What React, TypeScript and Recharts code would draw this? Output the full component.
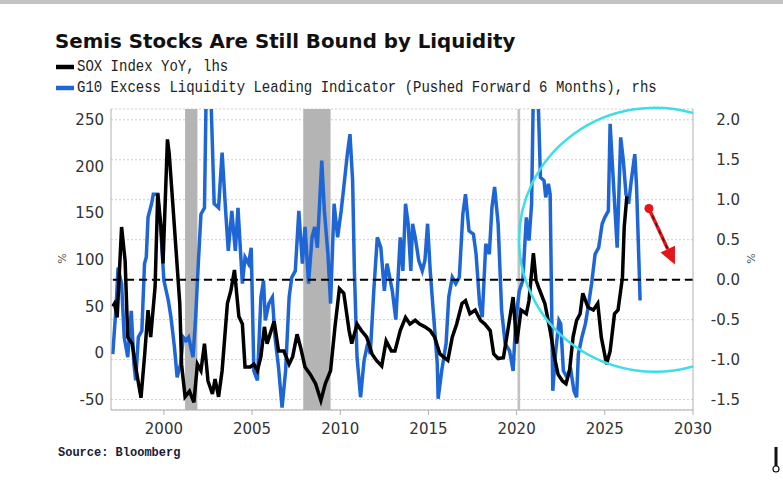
import React from 'react';
import {
  LineChart,
  Line,
  XAxis,
  YAxis,
  CartesianGrid,
  ReferenceArea,
  ReferenceLine,
  ReferenceDot,
} from 'recharts';

const X_TICKS = [2000, 2005, 2010, 2015, 2020, 2025, 2030];
const LHS_TICKS = [-50, 0, 50, 100, 150, 200, 250];
const RHS_TICKS = [-1.5, -1.0, -0.5, 0, 0.5, 1.0, 1.5, 2.0];

const X_DOMAIN = [1997, 2030];
const LHS_DOMAIN = [-61.14, 261.57];
const RHS_DOMAIN = [-1.63, 2.135];

// shaded recession windows [start, end] in decimal years
const RECESSIONS = [
  [2001.2, 2001.9],
  [2007.9, 2009.45],
  [2020.05, 2020.2],
];

// SOX Index YoY (%), lhs — [decimal year, value]
const SOX_YOY = [
  [1997.1, 50], [1997.2, 53], [1997.35, 38], [1997.6, 135], [1997.8, 99], [1997.95, 17],
  [1998.2, 10], [1998.4, -15], [1998.7, -48], [1998.9, -4], [1999.1, 46], [1999.25, 17],
  [1999.5, 71], [1999.65, 171], [1999.85, 132], [1999.95, 96], [2000.2, 229], [2000.3, 214],
  [2000.5, 161], [2000.7, 107], [2000.9, 53], [2001.0, -12], [2001.2, -47], [2001.45, -41],
  [2001.7, -53], [2001.9, -12], [2002.1, -19], [2002.3, 10], [2002.5, -30], [2002.75, -44],
  [2002.9, -28], [2003.1, -47], [2003.3, -19], [2003.6, 53], [2003.8, 67], [2004.0, 89],
  [2004.25, 39], [2004.45, 31], [2004.6, -15], [2004.9, -15], [2005.1, -12], [2005.3, -19],
  [2005.5, -4], [2005.7, 28], [2005.85, 10], [2006.25, 34], [2006.5, 2], [2006.8, 2],
  [2007.1, -12], [2007.3, -4], [2007.55, 20], [2007.75, 6], [2008.0, -15], [2008.3, -23],
  [2008.6, -33], [2008.9, -51], [2009.15, -33], [2009.45, -19], [2009.7, 28], [2009.95, 69],
  [2010.2, 64], [2010.5, 24], [2010.65, 10], [2010.95, 31], [2011.2, 24], [2011.5, 17],
  [2011.8, -1], [2012.05, -8], [2012.35, -14], [2012.6, 13], [2012.9, 2], [2013.1, 2],
  [2013.4, 24], [2013.7, 38], [2013.95, 31], [2014.25, 35], [2014.5, 31], [2014.8, 28],
  [2015.1, 24], [2015.35, 17], [2015.65, -1], [2015.9, -5], [2016.1, -8], [2016.35, 17],
  [2016.6, 31], [2016.9, 53], [2017.1, 56], [2017.35, 42], [2017.65, 46], [2017.95, 35],
  [2018.2, 31], [2018.5, 24], [2018.7, -1], [2018.95, -6], [2019.25, -5], [2019.5, 24],
  [2019.8, 60], [2020.0, 10], [2020.25, 46], [2020.55, 42], [2020.7, 56], [2020.95, 107],
  [2021.1, 78], [2021.25, 70], [2021.6, 53], [2021.9, 24], [2022.15, -5], [2022.35, -23],
  [2022.6, -30], [2022.8, -33], [2023.0, -19], [2023.2, 17], [2023.4, 35], [2023.6, 42],
  [2023.75, 64], [2024.05, 49], [2024.35, 46], [2024.6, 53], [2024.8, 17], [2025.1, -12],
  [2025.3, 2], [2025.55, 42], [2025.75, 46], [2026.0, 81], [2026.1, 135], [2026.25, 168],
];

// G10 Excess Liquidity Leading Indicator (pushed forward 6m), rhs
const G10_LIQ = [
  [1997.1, -0.93], [1997.3, -0.3], [1997.4, 0.15], [1997.6, -0.05], [1997.75, -0.72],
  [1997.95, -0.97], [1998.15, -0.39], [1998.3, -1.05], [1998.4, -1.26], [1998.55, -0.72],
  [1998.75, -0.64], [1998.9, 0.2], [1999.0, 0.28], [1999.1, 0.78], [1999.3, 0.95],
  [1999.4, 1.07], [1999.65, 1.07], [1999.85, 0.53], [2000.0, -0.01], [2000.25, -0.26],
  [2000.4, -0.47], [2000.6, -0.85], [2000.75, -1.22], [2000.95, -1.05], [2001.1, -0.72],
  [2001.25, -0.76], [2001.4, -0.72], [2001.65, -0.97], [2001.8, -0.47], [2001.95, 0.2],
  [2002.1, 0.82], [2002.3, 0.9], [2002.4, 2.4], [2002.65, 2.4], [2002.85, 0.95],
  [2003.1, 0.9], [2003.3, 1.59], [2003.5, 0.86], [2003.65, 0.36], [2003.85, 0.86],
  [2004.05, 0.36], [2004.2, 0.9], [2004.45, -0.05], [2004.6, 0.28], [2004.8, 0.2],
  [2004.95, 0.4], [2005.1, -1.14], [2005.3, -1.26], [2005.5, -0.22], [2005.65, -0.01],
  [2005.75, -0.51], [2005.95, -0.3], [2006.15, -0.22], [2006.3, -0.72], [2006.5, -1.1],
  [2006.7, -1.6], [2006.9, -1.14], [2007.1, -0.22], [2007.25, 0.03], [2007.45, 0.11],
  [2007.65, 0.86], [2007.85, 0.2], [2008.0, 0.66], [2008.2, -0.05], [2008.4, 0.53],
  [2008.55, 0.66], [2008.7, 0.4], [2008.95, 1.49], [2009.1, 0.86], [2009.3, 0.32],
  [2009.45, -0.3], [2009.65, 0.95], [2009.85, 0.53], [2010.05, 0.86], [2010.2, 1.16],
  [2010.4, 1.57], [2010.55, 1.82], [2010.7, 1.24], [2010.8, 0.11], [2010.95, -0.97],
  [2011.15, -1.47], [2011.35, -1.01], [2011.55, -0.8], [2011.7, -0.93], [2011.9, -0.14],
  [2012.1, 0.53], [2012.3, 0.4], [2012.5, -0.14], [2012.65, 0.2], [2012.95, -0.14],
  [2013.15, -0.5], [2013.4, 0.53], [2013.55, 0.11], [2013.7, 0.95], [2013.85, 0.7],
  [2014.0, 0.11], [2014.1, 0.7], [2014.25, 0.53], [2014.45, 0.24], [2014.65, 0.11],
  [2014.8, 0.24], [2014.95, 0.7], [2015.1, 0.11], [2015.3, -0.47], [2015.5, -1.05],
  [2015.55, -1.49], [2015.75, -1.14], [2016.0, -0.8], [2016.15, -0.22], [2016.35, 0.03],
  [2016.55, -0.05], [2016.75, 0.03], [2016.95, 0.82], [2017.1, 1.07], [2017.3, 0.61],
  [2017.55, 0.57], [2017.7, 0.32], [2017.9, -0.3], [2018.05, -0.47], [2018.25, 0.45],
  [2018.45, 0.32], [2018.6, 0.9], [2018.75, 1.16], [2018.95, 0.7], [2019.15, -0.39],
  [2019.35, -0.8], [2019.6, -0.89], [2019.8, -1.14], [2019.95, -0.51], [2020.15, -0.14],
  [2020.35, -0.01], [2020.55, 0.78], [2020.7, 0.49], [2020.85, 0.95], [2020.95, 2.4],
  [2021.2, 2.4], [2021.35, 1.28], [2021.55, 1.24], [2021.65, 1.03], [2021.8, 1.2],
  [2021.9, 1.07], [2022.05, -1.39], [2022.2, -0.93], [2022.4, -0.51], [2022.5, -0.55],
  [2022.65, -1.14], [2022.85, -1.22], [2023.05, -1.1], [2023.25, -1.39], [2023.4, -1.47],
  [2023.5, -0.93], [2023.7, -0.72], [2023.9, -0.55], [2024.05, -0.35], [2024.25, -0.05],
  [2024.45, 0.32], [2024.65, 0.4], [2024.85, 0.7], [2025.0, 0.78], [2025.2, 0.86],
  [2025.3, 1.95], [2025.45, 1.36], [2025.7, 0.4], [2025.9, 1.78], [2026.05, 1.49],
  [2026.2, 1.07], [2026.35, 0.95], [2026.5, 1.24], [2026.7, 1.57], [2026.8, 1.16],
  [2026.95, 0.11], [2027.0, -0.26],
];

// annotation anchors (data coords on rhs)
const CIRCLE_AT = { x: 2027.85, y: 0.5 };
const ARROW_AT = { x: 2027.5, y: 0.89 };

const W = 783;
const H = 504;
const MARGIN = { top: 109, right: 30, bottom: 64, left: 51 };
const AXIS_W = 60;
const X_AXIS_H = 30;
const PLOT = {
  x: MARGIN.left + AXIS_W,
  y: MARGIN.top,
  w: W - MARGIN.left - MARGIN.right - 2 * AXIS_W,
  h: H - MARGIN.top - MARGIN.bottom - X_AXIS_H,
};
// same linear mapping as the chart axes, for the overlay circle
const px = (x: number) => PLOT.x + ((x - X_DOMAIN[0]) / (X_DOMAIN[1] - X_DOMAIN[0])) * PLOT.w;
const py = (y: number) => PLOT.y + ((RHS_DOMAIN[1] - y) / (RHS_DOMAIN[1] - RHS_DOMAIN[0])) * PLOT.h;

// the circle is cut off at the right edge of the plot: draw only the arc inside
function circleArc(cx: number, cy: number, rx: number, ry: number, edge: number) {
  const dx = edge - cx;
  const dy = ry * Math.sqrt(Math.max(0, 1 - (dx / rx) ** 2));
  return `M ${edge} ${cy - dy} A ${rx} ${ry} 0 1 0 ${edge} ${cy + dy}`;
}

const soxData = SOX_YOY.map(([t, v]) => ({ t, v }));
const liqData = G10_LIQ.map(([t, v]) => ({ t, v }));

const TICK_FONT = { fill: '#333', fontSize: 15, fontFamily: 'DejaVu Sans' };

const RightTick = (props: any) => {
  const { x, y, payload } = props;
  return (
    <text x={x + 47} y={y} dy="0.36em" textAnchor="end" {...TICK_FONT}>
      {Number(payload.value).toFixed(1)}
    </text>
  );
};

const ArrowMark = (props: any) => {
  const { cx, cy } = props;
  const tx = cx + 26;
  const ty = cy + 56;
  const len = Math.hypot(tx - cx, ty - cy);
  const ux = (tx - cx) / len;
  const uy = (ty - cy) / len;
  const bx = tx - ux * 17;
  const by = ty - uy * 17;
  const hw = 8;
  return (
    <g>
      <line x1={cx} y1={cy} x2={bx} y2={by} stroke="#e3161b" strokeWidth={3.5} />
      <line x1={cx} y1={cy} x2={bx} y2={by} stroke="#3a0b0b" strokeWidth={1.2} strokeDasharray="4 4" />
      <polygon
        points={`${tx},${ty} ${bx - uy * hw},${by + ux * hw} ${bx + uy * hw},${by - ux * hw}`}
        fill="#e3161b"
      />
      <circle cx={cx} cy={cy} r={4.5} fill="#e3161b" />
    </g>
  );
};

export default function App() {
  return (
    <div style={{ position: 'relative', width: W, height: H, background: '#fff', overflow: 'hidden' }}>
      <style>{`body{margin:0}`}</style>
      <div style={{ position: 'absolute', left: 0, top: 0, width: W, height: 4, background: '#c4c4c4' }} />
      <div
        style={{
          position: 'absolute',
          left: 55,
          top: 30,
          fontFamily: 'DejaVu Sans, sans-serif',
          fontWeight: 700,
          fontSize: 19.8,
          color: '#111',
          whiteSpace: 'nowrap',
        }}
      >
        Semis Stocks Are Still Bound by Liquidity
      </div>
      {[
        { color: '#000', text: 'SOX Index YoY, lhs', top: 59 },
        { color: '#1e66d6', text: 'G10 Excess Liquidity Leading Indicator (Pushed Forward 6 Months), rhs', top: 80 },
      ].map((row) => (
        <div
          key={row.text}
          style={{
            position: 'absolute',
            left: 56,
            top: row.top,
            display: 'flex',
            alignItems: 'center',
            fontFamily: 'Liberation Mono, monospace',
            fontSize: 14,
            color: '#222',
            whiteSpace: 'nowrap',
            transform: 'scaleY(1.12)',
            transformOrigin: 'left center',
          }}
        >
          <span style={{ display: 'inline-block', width: 18, height: 3.5, background: row.color, marginRight: 3 }} />
          {row.text}
        </div>
      ))}
      <div
        style={{
          position: 'absolute',
          left: 58,
          top: 446,
          fontFamily: 'Liberation Mono, monospace',
          fontWeight: 700,
          fontSize: 12,
          color: '#1b1b33',
        }}
      >
        Source: Bloomberg
      </div>
      <div
        style={{
          position: 'absolute', left: 57, top: 252, fontSize: 11, color: '#555',
          fontFamily: 'DejaVu Sans', transform: 'rotate(-90deg)',
        }}
      >
        %
      </div>
      <div
        style={{
          position: 'absolute', left: 746, top: 252, fontSize: 11, color: '#555',
          fontFamily: 'DejaVu Sans', transform: 'rotate(-90deg)',
        }}
      >
        %
      </div>
      <div style={{ position: 'absolute', left: 0, top: 0 }}>
        <LineChart width={W} height={H} margin={MARGIN}>
          <CartesianGrid yAxisId="rhs" vertical={false} stroke="#cdcdcd" strokeDasharray="2 2" />
          <XAxis
            dataKey="t"
            type="number"
            domain={X_DOMAIN}
            ticks={X_TICKS}
            interval={0}
            allowDataOverflow
            stroke="#b0b0b0"
            tick={TICK_FONT}
            tickSize={5}
            tickMargin={8}
            height={X_AXIS_H}
          />
          <YAxis
            yAxisId="lhs"
            orientation="left"
            width={AXIS_W}
            type="number"
            domain={LHS_DOMAIN}
            ticks={LHS_TICKS}
            interval={0}
            allowDataOverflow
            stroke="#b0b0b0"
            tickLine={false}
            tickSize={0}
            tickMargin={7}
            tick={TICK_FONT}
          />
          <YAxis
            yAxisId="rhs"
            orientation="right"
            width={AXIS_W}
            type="number"
            domain={RHS_DOMAIN}
            ticks={RHS_TICKS}
            interval={0}
            allowDataOverflow
            stroke="#b0b0b0"
            tickLine={false}
            tickSize={0}
            tickMargin={0}
            tick={<RightTick />}
          />
          {RECESSIONS.map(([a, b], i) => (
            <ReferenceArea
              key={i}
              yAxisId="lhs"
              x1={a}
              x2={b}
              fill={i === 2 ? '#c2c2c2' : '#b4b4b4'}
              fillOpacity={1}
              stroke="none"
              ifOverflow="hidden"
            />
          ))}
          <Line
            yAxisId="rhs"
            data={liqData}
            dataKey="v"
            type="linear"
            stroke="#1e66d6"
            strokeWidth={3.5}
            dot={false}
            isAnimationActive={false}
          />
          <Line
            yAxisId="lhs"
            data={soxData}
            dataKey="v"
            type="linear"
            stroke="#000"
            strokeWidth={3.5}
            dot={false}
            isAnimationActive={false}
          />
          <ReferenceLine yAxisId="rhs" y={0} stroke="#000" strokeWidth={2} strokeDasharray="8 5" />
          <ReferenceDot
            yAxisId="rhs"
            x={ARROW_AT.x}
            y={ARROW_AT.y}
            r={1}
            ifOverflow="visible"
            shape={<ArrowMark />}
          />
        </LineChart>
      </div>
      <svg style={{ position: 'absolute', left: 0, top: 0, pointerEvents: 'none' }} width={W} height={H}>
        <path
          d={circleArc(px(CIRCLE_AT.x), py(CIRCLE_AT.y), 136, 132, PLOT.x + PLOT.w)}
          fill="none"
          stroke="#3fdde6"
          strokeWidth={2.5}
        />
        <line x1={776} y1={447} x2={776} y2={466} stroke="#111" strokeWidth={3} />
        <circle cx={776} cy={469} r={3} fill="#fff" stroke="#111" strokeWidth={1.2} />
      </svg>
    </div>
  );
}
